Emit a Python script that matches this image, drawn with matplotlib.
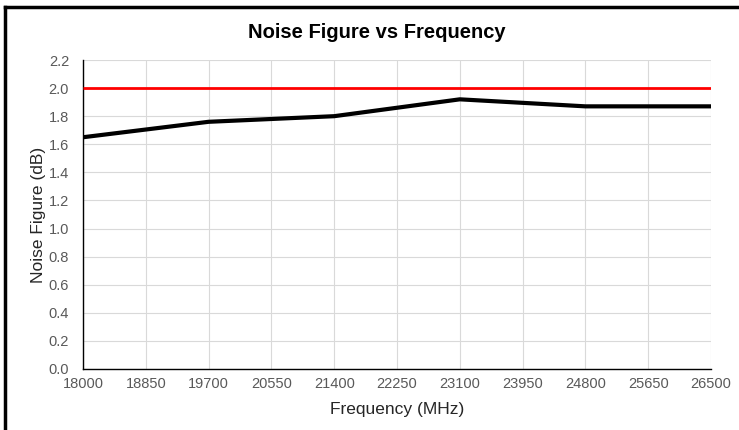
import matplotlib
matplotlib.use("Agg")
import matplotlib.pyplot as plt
from matplotlib.lines import Line2D

plt.rcParams['font.family'] = ['Liberation Sans', 'DejaVu Sans']

freq = [18000, 19700, 21400, 23100, 24800, 26500]
nf = [1.65, 1.76, 1.80, 1.92, 1.87, 1.87]
limit = [2.0, 2.0, 2.0, 2.0, 2.0, 2.0]
xticks = [18000, 18850, 19700, 20550, 21400, 22250, 23100, 23950, 24800, 25650, 26500]
yticks = [0.0, 0.2, 0.4, 0.6, 0.8, 1.0, 1.2, 1.4, 1.6, 1.8, 2.0, 2.2]

fig = plt.figure(figsize=(7.39, 4.30), dpi=100)
ax = fig.add_axes([83 / 739, 1 - 369 / 430, (711 - 83) / 739, (369 - 60) / 430])

ax.plot(freq, limit, color='#ff0000', lw=2, solid_capstyle='butt', zorder=3)
ax.plot(freq, nf, color='black', lw=3, solid_capstyle='butt', zorder=4)

ax.set_xlim(18000, 26500)
ax.set_ylim(0, 2.2)
ax.set_xticks(xticks)
ax.set_yticks(yticks)
ax.set_yticklabels([f"{v:.1f}" for v in yticks])
ax.tick_params(length=0, labelsize=10.5, labelcolor='#595959')
ax.tick_params(axis='x', pad=6)
ax.tick_params(axis='y', pad=10)
ax.grid(True, color='#d9d9d9', lw=0.8)
ax.set_axisbelow(True)
for s in ['top', 'right']:
    ax.spines[s].set_visible(False)
for s in ['left', 'bottom']:
    ax.spines[s].set_color('black')
    ax.spines[s].set_linewidth(1)

ax.set_xlabel('Frequency (MHz)', fontsize=12.5, color='#262626', labelpad=8)
ax.set_ylabel('Noise Figure (dB)', fontsize=12.5, color='#262626', labelpad=2)
fig.text(377 / 739, 1 - 32 / 430, 'Noise Figure vs Frequency', ha='center', va='center',
         fontsize=14.5, fontweight='bold')

# chart frame (left and top edges)
fig.add_artist(Line2D([5 / 739, 5 / 739], [0, 1 - 7 / 430], color='black', lw=2.5,
                      transform=fig.transFigure))
fig.add_artist(Line2D([5 / 739, 1], [1 - 7 / 430, 1 - 7 / 430], color='black', lw=2.5,
                      transform=fig.transFigure))

fig.savefig('out.png', dpi=100)
